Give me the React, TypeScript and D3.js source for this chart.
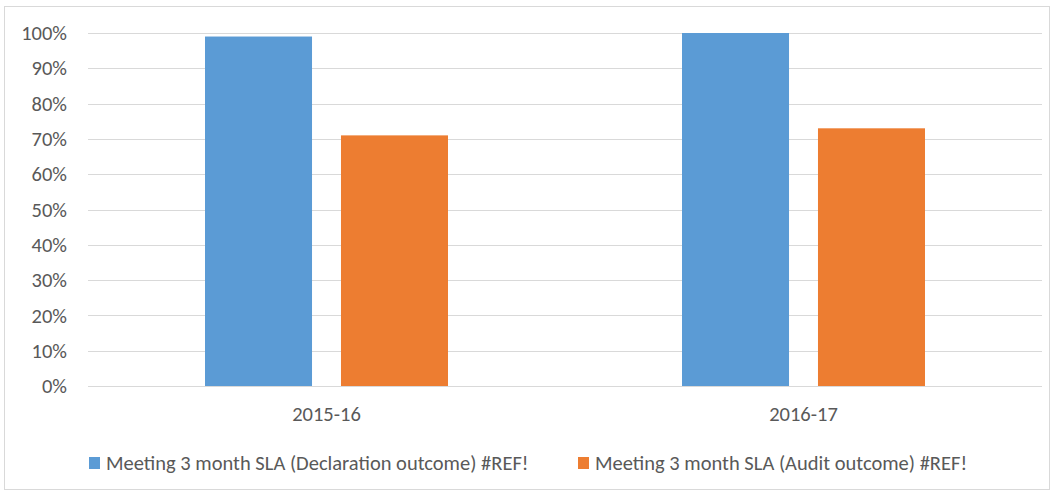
import React from "react";
import * as d3 from "d3";

const categories = ["2015-16", "2016-17"];
const seriesNames = [
  "Meeting 3 month SLA (Declaration outcome) #REF!",
  "Meeting 3 month SLA (Audit outcome) #REF!",
];
const declarationValues = [0.99, 1.0];
const auditValues = [0.71, 0.73];
const yTicks = [0, 0.1, 0.2, 0.3, 0.4, 0.5, 0.6, 0.7, 0.8, 0.9, 1.0];
const colors = ["#5b9bd5", "#ed7d31"];

const W = 1054;
const H = 493;
const FONT = "Carlito, Calibri, 'Open Sans', 'Liberation Sans', sans-serif";

export default function App() {
  const left = 88, right = 1042, top = 33, bottom = 386;
  const x0 = d3.scaleBand<string>().domain(categories).range([left, right]).padding(0);
  const groupW = 243;
  const x1 = d3
    .scaleBand<number>()
    .domain([0, 1])
    .range([0, groupW])
    .paddingInner(0.213)
    .paddingOuter(0);
  const y = d3.scaleLinear().domain([0, 1]).range([bottom, top]);
  const series = [declarationValues, auditValues];
  const fmt = d3.format(".0%");
  const fs = 20.5;

  return (
    <svg
      width={W}
      height={H}
      style={{ position: "absolute", left: 0, top: 0, background: "#fff" }}
      fontFamily={FONT}
    >
      <rect x={4.5} y={6.5} width={1045} height={483} fill="#fff" stroke="#d9d9d9" />
      {yTicks.map((t) => (
        <g key={t}>
          <line x1={left} x2={right} y1={Math.round(y(t)) + 0.5} y2={Math.round(y(t)) + 0.5} stroke="#d9d9d9" />
          <text x={67} y={y(t)} dy="0.35em" textAnchor="end" fontSize={fs} fill="#595959">
            {fmt(t)}
          </text>
        </g>
      ))}
      {categories.map((c, ci) => {
        const gx = (x0(c) as number) + (x0.bandwidth() - groupW) / 2;
        return (
          <g key={c}>
            {series.map((vals, si) => (
              <rect
                key={si}
                x={gx + (x1(si) as number)}
                y={y(vals[ci])}
                width={x1.bandwidth()}
                height={y(0) - y(vals[ci])}
                fill={colors[si]}
              />
            ))}
            <text
              x={(x0(c) as number) + x0.bandwidth() / 2}
              y={421}
              textAnchor="middle"
              fontSize={fs}
              fill="#595959"
            >
              {c}
            </text>
          </g>
        );
      })}
      {seriesNames.map((n, i) => {
        const lx = i === 0 ? 89 : 578;
        return (
          <g key={n}>
            <rect x={lx} y={457} width={11} height={12} fill={colors[i]} />
            <text x={lx + 17} y={470} fontSize={fs} fill="#595959">
              {n}
            </text>
          </g>
        );
      })}
    </svg>
  );
}
